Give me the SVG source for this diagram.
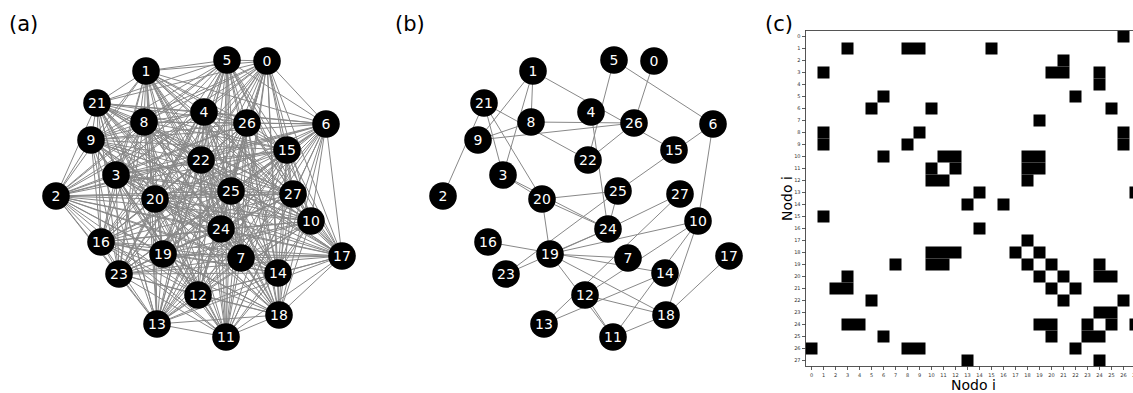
<svg xmlns="http://www.w3.org/2000/svg" width="1133" height="393" viewBox="0 0 1133 393">
<style>
  .edge { fill: none; stroke: #888; stroke-width: 1; }
  .node circle { fill: #000; }
  .node text { fill: #fff; font-family: "DejaVu Sans", sans-serif; font-size: 14px; text-anchor: middle; }
  .title { fill: #000; font-family: "DejaVu Sans", sans-serif; font-size: 21px; }
  .cell { fill: #000; }
  .tick { fill: none; stroke: #333; stroke-width: 0.8; }
  .ticklab { fill: #333; font-family: "DejaVu Sans", sans-serif; font-size: 5px; }
  .axlab { fill: #000; font-family: "DejaVu Sans", sans-serif; font-size: 14px; text-anchor: middle; }
</style>
<rect width="1133" height="393" fill="#fff"/>

<!-- panel titles -->
<text class="title" x="9" y="31">(a)</text>
<text class="title" x="395" y="31">(b)</text>
<text class="title" x="765" y="31">(c)</text>

<!-- (a) fully connected graph: one path per node, to every higher-numbered node -->
<g id="edges-a">
<path class="edge" d="M267 61L146 71M267 61L56 196M267 61L116 175M267 61L204 112M267 61L227 60M267 61L326 124M267 61L241 258M267 61L144 122M267 61L91 140M267 61L311 221M267 61L226 337M267 61L198 295M267 61L157 324M267 61L278 273M267 61L287 150M267 61L101 242M267 61L342 256M267 61L279 315M267 61L163 254M267 61L155 199M267 61L97 103M267 61L201 160M267 61L119 274M267 61L221 229M267 61L231 191M267 61L247 123M267 61L293 194"/>
<path class="edge" d="M146 71L56 196M146 71L116 175M146 71L204 112M146 71L227 60M146 71L326 124M146 71L241 258M146 71L144 122M146 71L91 140M146 71L311 221M146 71L226 337M146 71L198 295M146 71L157 324M146 71L278 273M146 71L287 150M146 71L101 242M146 71L342 256M146 71L279 315M146 71L163 254M146 71L155 199M146 71L97 103M146 71L201 160M146 71L119 274M146 71L221 229M146 71L231 191M146 71L247 123M146 71L293 194"/>
<path class="edge" d="M56 196L116 175M56 196L204 112M56 196L227 60M56 196L326 124M56 196L241 258M56 196L144 122M56 196L91 140M56 196L311 221M56 196L226 337M56 196L198 295M56 196L157 324M56 196L278 273M56 196L287 150M56 196L101 242M56 196L342 256M56 196L279 315M56 196L163 254M56 196L155 199M56 196L97 103M56 196L201 160M56 196L119 274M56 196L221 229M56 196L231 191M56 196L247 123M56 196L293 194"/>
<path class="edge" d="M116 175L204 112M116 175L227 60M116 175L326 124M116 175L241 258M116 175L144 122M116 175L91 140M116 175L311 221M116 175L226 337M116 175L198 295M116 175L157 324M116 175L278 273M116 175L287 150M116 175L101 242M116 175L342 256M116 175L279 315M116 175L163 254M116 175L155 199M116 175L97 103M116 175L201 160M116 175L119 274M116 175L221 229M116 175L231 191M116 175L247 123M116 175L293 194"/>
<path class="edge" d="M204 112L227 60M204 112L326 124M204 112L241 258M204 112L144 122M204 112L91 140M204 112L311 221M204 112L226 337M204 112L198 295M204 112L157 324M204 112L278 273M204 112L287 150M204 112L101 242M204 112L342 256M204 112L279 315M204 112L163 254M204 112L155 199M204 112L97 103M204 112L201 160M204 112L119 274M204 112L221 229M204 112L231 191M204 112L247 123M204 112L293 194"/>
<path class="edge" d="M227 60L326 124M227 60L241 258M227 60L144 122M227 60L91 140M227 60L311 221M227 60L226 337M227 60L198 295M227 60L157 324M227 60L278 273M227 60L287 150M227 60L101 242M227 60L342 256M227 60L279 315M227 60L163 254M227 60L155 199M227 60L97 103M227 60L201 160M227 60L119 274M227 60L221 229M227 60L231 191M227 60L247 123M227 60L293 194"/>
<path class="edge" d="M326 124L241 258M326 124L144 122M326 124L91 140M326 124L311 221M326 124L226 337M326 124L198 295M326 124L157 324M326 124L278 273M326 124L287 150M326 124L101 242M326 124L342 256M326 124L279 315M326 124L163 254M326 124L155 199M326 124L97 103M326 124L201 160M326 124L119 274M326 124L221 229M326 124L231 191M326 124L247 123M326 124L293 194"/>
<path class="edge" d="M241 258L144 122M241 258L91 140M241 258L311 221M241 258L226 337M241 258L198 295M241 258L157 324M241 258L278 273M241 258L287 150M241 258L101 242M241 258L342 256M241 258L279 315M241 258L163 254M241 258L155 199M241 258L97 103M241 258L201 160M241 258L119 274M241 258L221 229M241 258L231 191M241 258L247 123M241 258L293 194"/>
<path class="edge" d="M144 122L91 140M144 122L311 221M144 122L226 337M144 122L198 295M144 122L157 324M144 122L278 273M144 122L287 150M144 122L101 242M144 122L342 256M144 122L279 315M144 122L163 254M144 122L155 199M144 122L97 103M144 122L201 160M144 122L119 274M144 122L221 229M144 122L231 191M144 122L247 123M144 122L293 194"/>
<path class="edge" d="M91 140L311 221M91 140L226 337M91 140L198 295M91 140L157 324M91 140L278 273M91 140L287 150M91 140L101 242M91 140L342 256M91 140L279 315M91 140L163 254M91 140L155 199M91 140L97 103M91 140L201 160M91 140L119 274M91 140L221 229M91 140L231 191M91 140L247 123M91 140L293 194"/>
<path class="edge" d="M311 221L226 337M311 221L198 295M311 221L157 324M311 221L278 273M311 221L287 150M311 221L101 242M311 221L342 256M311 221L279 315M311 221L163 254M311 221L155 199M311 221L97 103M311 221L201 160M311 221L119 274M311 221L221 229M311 221L231 191M311 221L247 123M311 221L293 194"/>
<path class="edge" d="M226 337L198 295M226 337L157 324M226 337L278 273M226 337L287 150M226 337L101 242M226 337L342 256M226 337L279 315M226 337L163 254M226 337L155 199M226 337L97 103M226 337L201 160M226 337L119 274M226 337L221 229M226 337L231 191M226 337L247 123M226 337L293 194"/>
<path class="edge" d="M198 295L157 324M198 295L278 273M198 295L287 150M198 295L101 242M198 295L342 256M198 295L279 315M198 295L163 254M198 295L155 199M198 295L97 103M198 295L201 160M198 295L119 274M198 295L221 229M198 295L231 191M198 295L247 123M198 295L293 194"/>
<path class="edge" d="M157 324L278 273M157 324L287 150M157 324L101 242M157 324L342 256M157 324L279 315M157 324L163 254M157 324L155 199M157 324L97 103M157 324L201 160M157 324L119 274M157 324L221 229M157 324L231 191M157 324L247 123M157 324L293 194"/>
<path class="edge" d="M278 273L287 150M278 273L101 242M278 273L342 256M278 273L279 315M278 273L163 254M278 273L155 199M278 273L97 103M278 273L201 160M278 273L119 274M278 273L221 229M278 273L231 191M278 273L247 123M278 273L293 194"/>
<path class="edge" d="M287 150L101 242M287 150L342 256M287 150L279 315M287 150L163 254M287 150L155 199M287 150L97 103M287 150L201 160M287 150L119 274M287 150L221 229M287 150L231 191M287 150L247 123M287 150L293 194"/>
<path class="edge" d="M101 242L342 256M101 242L279 315M101 242L163 254M101 242L155 199M101 242L97 103M101 242L201 160M101 242L119 274M101 242L221 229M101 242L231 191M101 242L247 123M101 242L293 194"/>
<path class="edge" d="M342 256L279 315M342 256L163 254M342 256L155 199M342 256L97 103M342 256L201 160M342 256L119 274M342 256L221 229M342 256L231 191M342 256L247 123M342 256L293 194"/>
<path class="edge" d="M279 315L163 254M279 315L155 199M279 315L97 103M279 315L201 160M279 315L119 274M279 315L221 229M279 315L231 191M279 315L247 123M279 315L293 194"/>
<path class="edge" d="M163 254L155 199M163 254L97 103M163 254L201 160M163 254L119 274M163 254L221 229M163 254L231 191M163 254L247 123M163 254L293 194"/>
<path class="edge" d="M155 199L97 103M155 199L201 160M155 199L119 274M155 199L221 229M155 199L231 191M155 199L247 123M155 199L293 194"/>
<path class="edge" d="M97 103L201 160M97 103L119 274M97 103L221 229M97 103L231 191M97 103L247 123M97 103L293 194"/>
<path class="edge" d="M201 160L119 274M201 160L221 229M201 160L231 191M201 160L247 123M201 160L293 194"/>
<path class="edge" d="M119 274L221 229M119 274L231 191M119 274L247 123M119 274L293 194"/>
<path class="edge" d="M221 229L231 191M221 229L247 123M221 229L293 194"/>
<path class="edge" d="M231 191L247 123M231 191L293 194"/>
<path class="edge" d="M247 123L293 194"/>
</g>

<g id="nodes-a">
<g id="a-n0" class="node"><circle cx="267" cy="61" r="13.8"/><text x="267" y="66">0</text></g>
<g id="a-n1" class="node"><circle cx="146" cy="71" r="13.8"/><text x="146" y="76">1</text></g>
<g id="a-n2" class="node"><circle cx="56" cy="196" r="13.8"/><text x="56" y="201">2</text></g>
<g id="a-n3" class="node"><circle cx="116" cy="175" r="13.8"/><text x="116" y="180">3</text></g>
<g id="a-n4" class="node"><circle cx="204" cy="112" r="13.8"/><text x="204" y="117">4</text></g>
<g id="a-n5" class="node"><circle cx="227" cy="60" r="13.8"/><text x="227" y="65">5</text></g>
<g id="a-n6" class="node"><circle cx="326" cy="124" r="13.8"/><text x="326" y="129">6</text></g>
<g id="a-n7" class="node"><circle cx="241" cy="258" r="13.8"/><text x="241" y="263">7</text></g>
<g id="a-n8" class="node"><circle cx="144" cy="122" r="13.8"/><text x="144" y="127">8</text></g>
<g id="a-n9" class="node"><circle cx="91" cy="140" r="13.8"/><text x="91" y="145">9</text></g>
<g id="a-n10" class="node"><circle cx="311" cy="221" r="13.8"/><text x="311" y="226">10</text></g>
<g id="a-n11" class="node"><circle cx="226" cy="337" r="13.8"/><text x="226" y="342">11</text></g>
<g id="a-n12" class="node"><circle cx="198" cy="295" r="13.8"/><text x="198" y="300">12</text></g>
<g id="a-n13" class="node"><circle cx="157" cy="324" r="13.8"/><text x="157" y="329">13</text></g>
<g id="a-n14" class="node"><circle cx="278" cy="273" r="13.8"/><text x="278" y="278">14</text></g>
<g id="a-n15" class="node"><circle cx="287" cy="150" r="13.8"/><text x="287" y="155">15</text></g>
<g id="a-n16" class="node"><circle cx="101" cy="242" r="13.8"/><text x="101" y="247">16</text></g>
<g id="a-n17" class="node"><circle cx="342" cy="256" r="13.8"/><text x="342" y="261">17</text></g>
<g id="a-n18" class="node"><circle cx="279" cy="315" r="13.8"/><text x="279" y="320">18</text></g>
<g id="a-n19" class="node"><circle cx="163" cy="254" r="13.8"/><text x="163" y="259">19</text></g>
<g id="a-n20" class="node"><circle cx="155" cy="199" r="13.8"/><text x="155" y="204">20</text></g>
<g id="a-n21" class="node"><circle cx="97" cy="103" r="13.8"/><text x="97" y="108">21</text></g>
<g id="a-n22" class="node"><circle cx="201" cy="160" r="13.8"/><text x="201" y="165">22</text></g>
<g id="a-n23" class="node"><circle cx="119" cy="274" r="13.8"/><text x="119" y="279">23</text></g>
<g id="a-n24" class="node"><circle cx="221" cy="229" r="13.8"/><text x="221" y="234">24</text></g>
<g id="a-n25" class="node"><circle cx="231" cy="191" r="13.8"/><text x="231" y="196">25</text></g>
<g id="a-n26" class="node"><circle cx="247" cy="123" r="13.8"/><text x="247" y="128">26</text></g>
<g id="a-n27" class="node"><circle cx="293" cy="194" r="13.8"/><text x="293" y="199">27</text></g>
</g>

<!-- (b) sparse graph, same layout shifted right -->
<g transform="translate(387,0)">
<g id="edges-b">
<line class="edge" x1="267" y1="61" x2="247" y2="123"/>
<line class="edge" x1="146" y1="71" x2="116" y2="175"/>
<line class="edge" x1="146" y1="71" x2="144" y2="122"/>
<line class="edge" x1="146" y1="71" x2="91" y2="140"/>
<line class="edge" x1="146" y1="71" x2="287" y2="150"/>
<line class="edge" x1="56" y1="196" x2="97" y2="103"/>
<line class="edge" x1="116" y1="175" x2="155" y2="199"/>
<line class="edge" x1="116" y1="175" x2="97" y2="103"/>
<line class="edge" x1="116" y1="175" x2="221" y2="229"/>
<line class="edge" x1="204" y1="112" x2="221" y2="229"/>
<line class="edge" x1="227" y1="60" x2="326" y2="124"/>
<line class="edge" x1="227" y1="60" x2="201" y2="160"/>
<line class="edge" x1="326" y1="124" x2="311" y2="221"/>
<line class="edge" x1="326" y1="124" x2="231" y2="191"/>
<line class="edge" x1="241" y1="258" x2="163" y2="254"/>
<line class="edge" x1="144" y1="122" x2="91" y2="140"/>
<line class="edge" x1="144" y1="122" x2="247" y2="123"/>
<line class="edge" x1="91" y1="140" x2="247" y2="123"/>
<line class="edge" x1="311" y1="221" x2="226" y2="337"/>
<line class="edge" x1="311" y1="221" x2="198" y2="295"/>
<line class="edge" x1="311" y1="221" x2="279" y2="315"/>
<line class="edge" x1="311" y1="221" x2="163" y2="254"/>
<line class="edge" x1="226" y1="337" x2="198" y2="295"/>
<line class="edge" x1="226" y1="337" x2="279" y2="315"/>
<line class="edge" x1="226" y1="337" x2="163" y2="254"/>
<line class="edge" x1="198" y1="295" x2="279" y2="315"/>
<line class="edge" x1="157" y1="324" x2="278" y2="273"/>
<line class="edge" x1="157" y1="324" x2="293" y2="194"/>
<line class="edge" x1="278" y1="273" x2="101" y2="242"/>
<line class="edge" x1="342" y1="256" x2="279" y2="315"/>
<line class="edge" x1="279" y1="315" x2="163" y2="254"/>
<line class="edge" x1="163" y1="254" x2="155" y2="199"/>
<line class="edge" x1="163" y1="254" x2="221" y2="229"/>
<line class="edge" x1="155" y1="199" x2="97" y2="103"/>
<line class="edge" x1="155" y1="199" x2="221" y2="229"/>
<line class="edge" x1="155" y1="199" x2="231" y2="191"/>
<line class="edge" x1="97" y1="103" x2="201" y2="160"/>
<line class="edge" x1="201" y1="160" x2="247" y2="123"/>
<line class="edge" x1="119" y1="274" x2="221" y2="229"/>
<line class="edge" x1="119" y1="274" x2="231" y2="191"/>
<line class="edge" x1="221" y1="229" x2="231" y2="191"/>
<line class="edge" x1="221" y1="229" x2="293" y2="194"/>
</g>
<g id="nodes-b">
<g id="b-n0" class="node"><circle cx="267" cy="61" r="13.8"/><text x="267" y="66">0</text></g>
<g id="b-n1" class="node"><circle cx="146" cy="71" r="13.8"/><text x="146" y="76">1</text></g>
<g id="b-n2" class="node"><circle cx="56" cy="196" r="13.8"/><text x="56" y="201">2</text></g>
<g id="b-n3" class="node"><circle cx="116" cy="175" r="13.8"/><text x="116" y="180">3</text></g>
<g id="b-n4" class="node"><circle cx="204" cy="112" r="13.8"/><text x="204" y="117">4</text></g>
<g id="b-n5" class="node"><circle cx="227" cy="60" r="13.8"/><text x="227" y="65">5</text></g>
<g id="b-n6" class="node"><circle cx="326" cy="124" r="13.8"/><text x="326" y="129">6</text></g>
<g id="b-n7" class="node"><circle cx="241" cy="258" r="13.8"/><text x="241" y="263">7</text></g>
<g id="b-n8" class="node"><circle cx="144" cy="122" r="13.8"/><text x="144" y="127">8</text></g>
<g id="b-n9" class="node"><circle cx="91" cy="140" r="13.8"/><text x="91" y="145">9</text></g>
<g id="b-n10" class="node"><circle cx="311" cy="221" r="13.8"/><text x="311" y="226">10</text></g>
<g id="b-n11" class="node"><circle cx="226" cy="337" r="13.8"/><text x="226" y="342">11</text></g>
<g id="b-n12" class="node"><circle cx="198" cy="295" r="13.8"/><text x="198" y="300">12</text></g>
<g id="b-n13" class="node"><circle cx="157" cy="324" r="13.8"/><text x="157" y="329">13</text></g>
<g id="b-n14" class="node"><circle cx="278" cy="273" r="13.8"/><text x="278" y="278">14</text></g>
<g id="b-n15" class="node"><circle cx="287" cy="150" r="13.8"/><text x="287" y="155">15</text></g>
<g id="b-n16" class="node"><circle cx="101" cy="242" r="13.8"/><text x="101" y="247">16</text></g>
<g id="b-n17" class="node"><circle cx="342" cy="256" r="13.8"/><text x="342" y="261">17</text></g>
<g id="b-n18" class="node"><circle cx="279" cy="315" r="13.8"/><text x="279" y="320">18</text></g>
<g id="b-n19" class="node"><circle cx="163" cy="254" r="13.8"/><text x="163" y="259">19</text></g>
<g id="b-n20" class="node"><circle cx="155" cy="199" r="13.8"/><text x="155" y="204">20</text></g>
<g id="b-n21" class="node"><circle cx="97" cy="103" r="13.8"/><text x="97" y="108">21</text></g>
<g id="b-n22" class="node"><circle cx="201" cy="160" r="13.8"/><text x="201" y="165">22</text></g>
<g id="b-n23" class="node"><circle cx="119" cy="274" r="13.8"/><text x="119" y="279">23</text></g>
<g id="b-n24" class="node"><circle cx="221" cy="229" r="13.8"/><text x="221" y="234">24</text></g>
<g id="b-n25" class="node"><circle cx="231" cy="191" r="13.8"/><text x="231" y="196">25</text></g>
<g id="b-n26" class="node"><circle cx="247" cy="123" r="13.8"/><text x="247" y="128">26</text></g>
<g id="b-n27" class="node"><circle cx="293" cy="194" r="13.8"/><text x="293" y="199">27</text></g>
</g>
</g>

<!-- (c) adjacency matrix, 12px cells starting at (805.5, 30.5) -->
<g id="matrix">
<rect class="cell" x="1117.5" y="30.5" width="12" height="12"/>
<rect class="cell" x="841.5" y="42.5" width="12" height="12"/>
<rect class="cell" x="901.5" y="42.5" width="24" height="12"/>
<rect class="cell" x="985.5" y="42.5" width="12" height="12"/>
<rect class="cell" x="1057.5" y="54.5" width="12" height="12"/>
<rect class="cell" x="817.5" y="66.5" width="12" height="12"/>
<rect class="cell" x="1045.5" y="66.5" width="24" height="12"/>
<rect class="cell" x="1093.5" y="66.5" width="12" height="12"/>
<rect class="cell" x="1093.5" y="78.5" width="12" height="12"/>
<rect class="cell" x="877.5" y="90.5" width="12" height="12"/>
<rect class="cell" x="1069.5" y="90.5" width="12" height="12"/>
<rect class="cell" x="865.5" y="102.5" width="12" height="12"/>
<rect class="cell" x="925.5" y="102.5" width="12" height="12"/>
<rect class="cell" x="1105.5" y="102.5" width="12" height="12"/>
<rect class="cell" x="1033.5" y="114.5" width="12" height="12"/>
<rect class="cell" x="817.5" y="126.5" width="12" height="12"/>
<rect class="cell" x="913.5" y="126.5" width="12" height="12"/>
<rect class="cell" x="1117.5" y="126.5" width="12" height="12"/>
<rect class="cell" x="817.5" y="138.5" width="12" height="12"/>
<rect class="cell" x="901.5" y="138.5" width="12" height="12"/>
<rect class="cell" x="1117.5" y="138.5" width="12" height="12"/>
<rect class="cell" x="877.5" y="150.5" width="12" height="12"/>
<rect class="cell" x="937.5" y="150.5" width="24" height="12"/>
<rect class="cell" x="1021.5" y="150.5" width="24" height="12"/>
<rect class="cell" x="925.5" y="162.5" width="12" height="12"/>
<rect class="cell" x="949.5" y="162.5" width="12" height="12"/>
<rect class="cell" x="1021.5" y="162.5" width="24" height="12"/>
<rect class="cell" x="925.5" y="174.5" width="24" height="12"/>
<rect class="cell" x="1021.5" y="174.5" width="12" height="12"/>
<rect class="cell" x="973.5" y="186.5" width="12" height="12"/>
<rect class="cell" x="1129.5" y="186.5" width="12" height="12"/>
<rect class="cell" x="961.5" y="198.5" width="12" height="12"/>
<rect class="cell" x="997.5" y="198.5" width="12" height="12"/>
<rect class="cell" x="817.5" y="210.5" width="12" height="12"/>
<rect class="cell" x="973.5" y="222.5" width="12" height="12"/>
<rect class="cell" x="1021.5" y="234.5" width="12" height="12"/>
<rect class="cell" x="925.5" y="246.5" width="36" height="12"/>
<rect class="cell" x="1009.5" y="246.5" width="12" height="12"/>
<rect class="cell" x="1033.5" y="246.5" width="12" height="12"/>
<rect class="cell" x="889.5" y="258.5" width="12" height="12"/>
<rect class="cell" x="925.5" y="258.5" width="24" height="12"/>
<rect class="cell" x="1021.5" y="258.5" width="12" height="12"/>
<rect class="cell" x="1045.5" y="258.5" width="12" height="12"/>
<rect class="cell" x="1093.5" y="258.5" width="12" height="12"/>
<rect class="cell" x="841.5" y="270.5" width="12" height="12"/>
<rect class="cell" x="1033.5" y="270.5" width="12" height="12"/>
<rect class="cell" x="1057.5" y="270.5" width="12" height="12"/>
<rect class="cell" x="1093.5" y="270.5" width="24" height="12"/>
<rect class="cell" x="829.5" y="282.5" width="24" height="12"/>
<rect class="cell" x="1045.5" y="282.5" width="12" height="12"/>
<rect class="cell" x="1069.5" y="282.5" width="12" height="12"/>
<rect class="cell" x="865.5" y="294.5" width="12" height="12"/>
<rect class="cell" x="1057.5" y="294.5" width="12" height="12"/>
<rect class="cell" x="1117.5" y="294.5" width="12" height="12"/>
<rect class="cell" x="1093.5" y="306.5" width="24" height="12"/>
<rect class="cell" x="841.5" y="318.5" width="24" height="12"/>
<rect class="cell" x="1033.5" y="318.5" width="24" height="12"/>
<rect class="cell" x="1081.5" y="318.5" width="12" height="12"/>
<rect class="cell" x="1105.5" y="318.5" width="12" height="12"/>
<rect class="cell" x="1129.5" y="318.5" width="12" height="12"/>
<rect class="cell" x="877.5" y="330.5" width="12" height="12"/>
<rect class="cell" x="1045.5" y="330.5" width="12" height="12"/>
<rect class="cell" x="1081.5" y="330.5" width="24" height="12"/>
<rect class="cell" x="805.5" y="342.5" width="12" height="12"/>
<rect class="cell" x="901.5" y="342.5" width="24" height="12"/>
<rect class="cell" x="1069.5" y="342.5" width="12" height="12"/>
<rect class="cell" x="961.5" y="354.5" width="12" height="12"/>
<rect class="cell" x="1093.5" y="354.5" width="12" height="12"/>
</g>

<g id="axes">
<rect x="805.5" y="30.5" width="336" height="336" fill="none" stroke="#444" stroke-width="0.9"/>
<path class="tick" d="M811.5 366.5v3.5M823.5 366.5v3.5M835.5 366.5v3.5M847.5 366.5v3.5M859.5 366.5v3.5M871.5 366.5v3.5M883.5 366.5v3.5M895.5 366.5v3.5M907.5 366.5v3.5M919.5 366.5v3.5M931.5 366.5v3.5M943.5 366.5v3.5M955.5 366.5v3.5M967.5 366.5v3.5M979.5 366.5v3.5M991.5 366.5v3.5M1003.5 366.5v3.5M1015.5 366.5v3.5M1027.5 366.5v3.5M1039.5 366.5v3.5M1051.5 366.5v3.5M1063.5 366.5v3.5M1075.5 366.5v3.5M1087.5 366.5v3.5M1099.5 366.5v3.5M1111.5 366.5v3.5M1123.5 366.5v3.5M1135.5 366.5v3.5"/>
<path class="tick" d="M802 36.5h3.5M802 48.5h3.5M802 60.5h3.5M802 72.5h3.5M802 84.5h3.5M802 96.5h3.5M802 108.5h3.5M802 120.5h3.5M802 132.5h3.5M802 144.5h3.5M802 156.5h3.5M802 168.5h3.5M802 180.5h3.5M802 192.5h3.5M802 204.5h3.5M802 216.5h3.5M802 228.5h3.5M802 240.5h3.5M802 252.5h3.5M802 264.5h3.5M802 276.5h3.5M802 288.5h3.5M802 300.5h3.5M802 312.5h3.5M802 324.5h3.5M802 336.5h3.5M802 348.5h3.5M802 360.5h3.5"/>
<g class="ticklab" text-anchor="middle">
<text x="811.5" y="376.5">0</text><text x="823.5" y="376.5">1</text><text x="835.5" y="376.5">2</text><text x="847.5" y="376.5">3</text><text x="859.5" y="376.5">4</text><text x="871.5" y="376.5">5</text><text x="883.5" y="376.5">6</text><text x="895.5" y="376.5">7</text><text x="907.5" y="376.5">8</text><text x="919.5" y="376.5">9</text><text x="931.5" y="376.5">10</text><text x="943.5" y="376.5">11</text><text x="955.5" y="376.5">12</text><text x="967.5" y="376.5">13</text><text x="979.5" y="376.5">14</text><text x="991.5" y="376.5">15</text><text x="1003.5" y="376.5">16</text><text x="1015.5" y="376.5">17</text><text x="1027.5" y="376.5">18</text><text x="1039.5" y="376.5">19</text><text x="1051.5" y="376.5">20</text><text x="1063.5" y="376.5">21</text><text x="1075.5" y="376.5">22</text><text x="1087.5" y="376.5">23</text><text x="1099.5" y="376.5">24</text><text x="1111.5" y="376.5">25</text><text x="1123.5" y="376.5">26</text><text x="1135.5" y="376.5">27</text>
</g>
<g class="ticklab" text-anchor="end">
<text x="800.5" y="38.3">0</text><text x="800.5" y="50.3">1</text><text x="800.5" y="62.3">2</text><text x="800.5" y="74.3">3</text><text x="800.5" y="86.3">4</text><text x="800.5" y="98.3">5</text><text x="800.5" y="110.3">6</text><text x="800.5" y="122.3">7</text><text x="800.5" y="134.3">8</text><text x="800.5" y="146.3">9</text><text x="800.5" y="158.3">10</text><text x="800.5" y="170.3">11</text><text x="800.5" y="182.3">12</text><text x="800.5" y="194.3">13</text><text x="800.5" y="206.3">14</text><text x="800.5" y="218.3">15</text><text x="800.5" y="230.3">16</text><text x="800.5" y="242.3">17</text><text x="800.5" y="254.3">18</text><text x="800.5" y="266.3">19</text><text x="800.5" y="278.3">20</text><text x="800.5" y="290.3">21</text><text x="800.5" y="302.3">22</text><text x="800.5" y="314.3">23</text><text x="800.5" y="326.3">24</text><text x="800.5" y="338.3">25</text><text x="800.5" y="350.3">26</text><text x="800.5" y="362.3">27</text>
</g>
<text class="axlab" x="973.5" y="389.5">Nodo i</text>
<text class="axlab" x="792" y="198.5" transform="rotate(-90 792 198.5)">Nodo i</text>
</g>
</svg>
